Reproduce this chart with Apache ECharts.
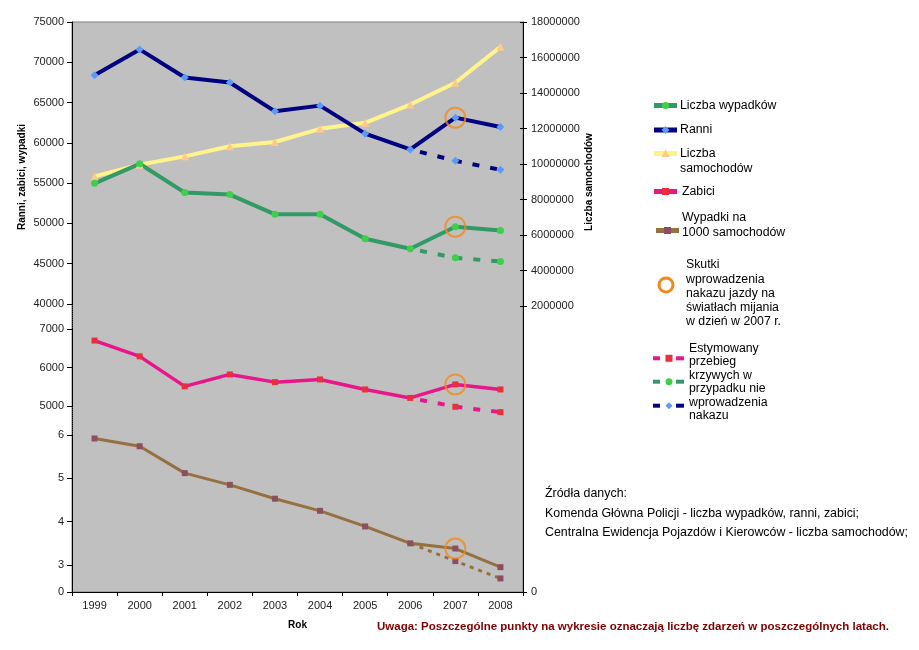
<!DOCTYPE html>
<html><head><meta charset="utf-8">
<script src="https://cdn.jsdelivr.net/npm/echarts@6/dist/echarts.min.js"></script>
<style>html,body{margin:0;padding:0;background:#fff}#c{width:919px;height:650px}</style>
</head><body><div id="c"></div>
<script>
// ---- data ----
const years = ['1999','2000','2001','2002','2003','2004','2005','2006','2007','2008'];
const wypadki = [54980, 57400, 53830, 53580, 51130, 51130, 48100, 46850, 49590, 49130];
const ranni = [68400, 71600, 68110, 67490, 63910, 64620, 61140, 59180, 63130, 61960];
const samochody = [9300000, 9960000, 10430000, 11000000, 11240000, 11980000, 12320000, 13350000, 14580000, 16600000];
const zabici = [6700, 6290, 5510, 5820, 5620, 5690, 5430, 5210, 5560, 5430];
const naTysiac = [5.92, 5.74, 5.12, 4.85, 4.53, 4.25, 3.89, 3.50, 3.38, 2.95];
// estimated values without the 2007 regulation (2007, 2008)
const estYears = ['2007','2008'];
const wypadkiEst = [45730, 45270];
const ranniEst = [57770, 56650];
const zabiciEst = [4980, 4840];
const naTysiacEst = [3.09, 2.69];
const markYear = '2007';
const leftTicksTop = [40000, 75000, 5000];
const leftTicksMid = [5000, 7000, 1000];
const leftTicksBot = [3, 6, 1];
const rightTicks = [2000000, 18000000, 2000000];

const FONT = '"Liberation Sans", Arial, sans-serif';
const C = {
  green: '#339966', greenM: '#3fd04a',
  navy: '#000080', navyM: '#5b9bf8',
  yellow: '#fff38c', yellowM: '#ffc98c',
  pink: '#e8168a', pinkM: '#e8303a',
  brown: '#957040', brownM: '#8a5060',
  orange: '#f08a1e'
};
const startIdx = years.indexOf(estYears[0]) - 1;
function est(actual, e) {
  return years.map((y, i) => {
    if (i < startIdx) return null;
    if (i === startIdx) return { value: actual[i], symbol: 'none' };
    return e[estYears.indexOf(y)];
  });
}
const mIdx = years.indexOf(markYear);
function mark(arr) { return [[markYear, arr[mIdx]]]; }
const plain = v => String(v);

const L = 72, RGT = 919 - 523;
function grid(top, height, extra) { return Object.assign({ left: L, right: RGT, top: top, height: height }, extra || {}); }
const hiddenX = (g) => ({ type: 'category', data: years, gridIndex: g, boundaryGap: true, show: false });
const lblStyle = { fontFamily: FONT, fontSize: 11, color: '#222' };

const leftAxis = (g, t, extra) => Object.assign({
  type: 'value', gridIndex: g, position: 'left', min: t[0], max: t[1], interval: t[2],
  axisLine: { show: true, lineStyle: { color: '#000', width: 1 } },
  axisTick: { show: true, length: 5, lineStyle: { color: '#000' } },
  axisLabel: Object.assign({ margin: 8, formatter: plain }, lblStyle),
  splitLine: { show: false }
}, extra || {});

const mainLine = (name, data, xi, yi, color, mcolor, symbol, size, width, extra) => Object.assign({
  name, type: 'line', data, xAxisIndex: xi, yAxisIndex: yi,
  symbol, symbolSize: size, showAllSymbol: true,
  lineStyle: { color, width },
  itemStyle: { color: mcolor, borderWidth: 0 },
  z: 3, animation: false
}, extra || {});
const estLine = (name, data, xi, yi, color, mcolor, symbol, size, width, dash) => ({
  name, type: 'line', data, xAxisIndex: xi, yAxisIndex: yi,
  symbol, symbolSize: size, showAllSymbol: true, clip: false,
  lineStyle: { color, width, type: dash || [7, 11], dashOffset: -10 },
  itemStyle: { color: mcolor, borderWidth: 0 },
  z: 2, animation: false
});
const ring = (data, xi, yi) => ({
  type: 'scatter', data, xAxisIndex: xi, yAxisIndex: yi, symbol: 'circle', symbolSize: 20, clip: false,
  itemStyle: { color: 'rgba(0,0,0,0)', borderColor: C.orange, borderWidth: 2 }, z: 5, animation: false
});

// ---- legend / annotation graphics ----
const g = [];
function lgLine(x1, x2, y, color, w, dash) {
  g.push({ type: 'line', shape: { x1, y1: y, x2, y2: y }, style: { stroke: color, lineWidth: w, lineDash: dash || null } });
}
function lgSym(kind, x, y, fill, s) {
  if (kind === 'circle') g.push({ type: 'circle', shape: { cx: x, cy: y, r: s / 2 }, style: { fill } });
  else if (kind === 'rect') g.push({ type: 'rect', shape: { x: x - s / 2, y: y - s / 2, width: s, height: s }, style: { fill } });
  else if (kind === 'diamond') g.push({ type: 'polygon', shape: { points: [[x, y - s / 2], [x + s / 2, y], [x, y + s / 2], [x - s / 2, y]] }, style: { fill } });
  else if (kind === 'triangle') g.push({ type: 'polygon', shape: { points: [[x, y - s / 2], [x + s / 2, y + s / 2], [x - s / 2, y + s / 2]] }, style: { fill } });
}
function lgText(x, y, lines, lh, size) {
  lines.forEach((t, i) => g.push({ type: 'text', x, y: y + i * lh, style: { text: t, font: (size || 12) + 'px ' + FONT, fill: '#000', textVerticalAlign: 'middle' } }));
}
lgLine(654, 677, 105.5, C.green, 5); lgSym('circle', 665.5, 105.5, C.greenM, 7); lgText(680, 105.5, ['Liczba wypadków'], 15, 12.3);
lgLine(654, 677, 130, C.navy, 5); lgSym('diamond', 665.5, 130, C.navyM, 8); lgText(680, 130, ['Ranni'], 15, 12.3);
lgLine(654, 677, 153.5, C.yellow, 5); lgSym('triangle', 665.5, 153, C.yellowM, 8); lgText(680, 153.5, ['Liczba', 'samochodów'], 15, 12.3);
lgLine(654, 677, 191.5, C.pink, 5); lgSym('rect', 665.5, 191.5, C.pinkM, 7); lgText(682, 191.5, ['Zabici'], 15, 12.3);
lgLine(656, 679, 230.5, C.brown, 5); lgSym('rect', 667.5, 230.5, C.brownM, 7); lgText(682, 217.5, ['Wypadki na', '1000 samochodów'], 15, 12.3);
g.push({ type: 'circle', shape: { cx: 666, cy: 285, r: 7 }, style: { fill: 'none', stroke: C.orange, lineWidth: 3 } });
lgText(686, 265, ['Skutki', 'wprowadzenia', 'nakazu jazdy na', 'światłach mijania', 'w dzień w 2007 r.'], 14.2, 12.3);
[[358.3, C.pink, C.pinkM, 'rect', 7], [381.7, C.green, C.greenM, 'circle', 7], [405.7, C.navy, C.navyM, 'diamond', 7]].forEach(r => {
  lgLine(653, 660, r[0], r[1], 4); lgLine(676, 684, r[0], r[1], 4); lgSym(r[3], 669, r[0], r[2], r[4]);
});
lgText(689, 348.3, ['Estymowany', 'przebieg', 'krzywych w', 'przypadku nie', 'wprowadzenia', 'nakazu'], 13.5, 12.3);
lgText(545, 494, ['Źródła danych:', 'Komenda Główna Policji - liczba wypadków, ranni, zabici;', 'Centralna Ewidencja Pojazdów i Kierowców - liczba samochodów;'], 19.5, 12.4);
g.push({ type: 'text', x: 377, y: 627, style: { text: 'Uwaga: Poszczególne punkty na wykresie oznaczają liczbę zdarzeń w poszczególnych latach.', font: 'bold 11.5px ' + FONT, fill: '#800000', textVerticalAlign: 'middle' } });
g.push({ type: 'text', x: 22, y: 177, rotation: Math.PI / 2, style: { text: 'Ranni, zabici, wypadki', font: 'bold 10px ' + FONT, fill: '#000', textAlign: 'center', textVerticalAlign: 'middle' } });
g.push({ type: 'text', x: 589, y: 182, rotation: Math.PI / 2, style: { text: 'Liczba samochodów', font: 'bold 10px ' + FONT, fill: '#000', textAlign: 'center', textVerticalAlign: 'middle' } });

const option = {
  animation: false,
  backgroundColor: '#fff',
  grid: [
    grid(22, 570, { show: true, backgroundColor: '#c0c0c0', borderColor: '#808080', borderWidth: 1 }), // 0 base
    grid(22, 282),   // 1 top section
    grid(329, 77),   // 2 middle section
    grid(435, 130),  // 3 lower section
    grid(22, 284),   // 4 cars (right)
    grid(565, 27),   // 5 bottom zero piece
    grid(304, 25),   // 6 break
    grid(406, 29)    // 7 break
  ],
  xAxis: [
    { type: 'category', data: years, gridIndex: 0, boundaryGap: true, position: 'bottom',
      axisLine: { show: true, lineStyle: { color: '#000' } },
      axisTick: { show: true, length: 4, alignWithLabel: false, lineStyle: { color: '#000' } },
      axisLabel: Object.assign({ margin: 8, interval: 0 }, lblStyle),
      name: 'Rok', nameLocation: 'middle', nameGap: 28,
      nameTextStyle: { fontFamily: FONT, fontSize: 10, fontWeight: 'bold', color: '#000' } },
    hiddenX(1), hiddenX(2), hiddenX(3), hiddenX(4), hiddenX(5), hiddenX(6), hiddenX(7)
  ],
  yAxis: [
    // 0 base right axis line + bottom "0"
    { type: 'value', gridIndex: 0, position: 'right', min: 0, max: 1, interval: 1,
      axisLine: { show: true, lineStyle: { color: '#000' } },
      axisTick: { show: true, length: 4, lineStyle: { color: '#000' } },
      axisLabel: Object.assign({ margin: 8, formatter: v => v === 0 ? '0' : '' }, lblStyle),
      splitLine: { show: false } },
    // 1 cars
    { type: 'value', gridIndex: 4, position: 'right', min: rightTicks[0], max: rightTicks[1], interval: rightTicks[2],
      axisLine: { show: false },
      axisTick: { show: true, length: 4, lineStyle: { color: '#000' } },
      axisLabel: Object.assign({ margin: 8, formatter: plain }, lblStyle),
      splitLine: { show: false } },
    leftAxis(1, leftTicksTop),   // 2
    leftAxis(2, leftTicksMid),   // 3
    leftAxis(3, leftTicksBot),   // 4
    leftAxis(5, [0, 1, 1], { axisLabel: Object.assign({ margin: 8, formatter: v => v === 0 ? '0' : '' }, lblStyle) }), // 5
    leftAxis(6, [0, 1, 1], { axisTick: { show: false }, axisLabel: { show: false }, axisLine: { show: true, lineStyle: { color: '#000', type: [1, 1] } } }), // 6
    leftAxis(7, [0, 1, 1], { axisTick: { show: false }, axisLabel: { show: false }, axisLine: { show: true, lineStyle: { color: '#000', type: [1, 1] } } }), // 7
    // 8 cars inside ticks
    { type: 'value', gridIndex: 4, position: 'right', min: rightTicks[0], max: rightTicks[1], interval: rightTicks[2],
      axisLine: { show: false }, axisLabel: { show: false }, splitLine: { show: false },
      axisTick: { show: true, inside: true, length: 3, lineStyle: { color: '#000' } } }
  ],
  series: [
    mainLine('Liczba samochodów', samochody, 4, 1, C.yellow, C.yellowM, 'triangle', 8, 4),
    estLine('Ranni (est.)', est(ranni, ranniEst), 1, 2, C.navy, C.navyM, 'diamond', 8, 4),
    estLine('Liczba wypadków (est.)', est(wypadki, wypadkiEst), 1, 2, C.green, C.greenM, 'circle', 7, 4),
    mainLine('Ranni', ranni, 1, 2, C.navy, C.navyM, 'diamond', 8, 4),
    mainLine('Liczba wypadków', wypadki, 1, 2, C.green, C.greenM, 'circle', 7, 4),
    estLine('Zabici (est.)', est(zabici, zabiciEst), 2, 3, C.pink, C.pinkM, 'rect', 6, 4),
    mainLine('Zabici', zabici, 2, 3, C.pink, C.pinkM, 'rect', 6, 3.5),
    estLine('Wypadki na 1000 samochodów (est.)', est(naTysiac, naTysiacEst), 3, 4, C.brown, C.brownM, 'rect', 6, 3, [4, 5]),
    mainLine('Wypadki na 1000 samochodów', naTysiac, 3, 4, C.brown, C.brownM, 'rect', 6, 3, { clip: false }),
    ring(mark(ranni), 1, 2),
    ring(mark(wypadki), 1, 2),
    ring(mark(zabici), 2, 3),
    ring(mark(naTysiac), 3, 4)
  ],
  graphic: g
};
const chart = echarts.init(document.getElementById('c'), null, { renderer: 'canvas' });
chart.setOption(option);
</script></body></html>
